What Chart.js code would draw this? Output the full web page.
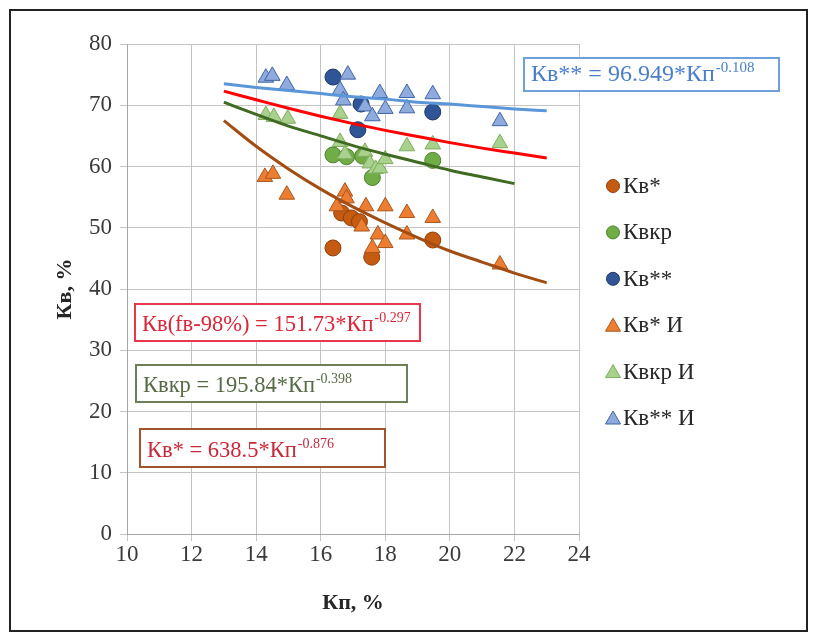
<!DOCTYPE html>
<html>
<head>
<meta charset="utf-8">
<script src="https://cdn.jsdelivr.net/npm/chart.js@4.4.1/dist/chart.umd.min.js"></script>
<style>
  html, body { margin: 0; padding: 0; background: #fff; }
  #wrap { position: relative; width: 816px; height: 633px; }
</style>
</head>
<body>
<div id="wrap"><canvas id="chart" width="816" height="633"></canvas></div>
<script>
// Кв* (circles)
const kvX = [16.38, 16.65, 16.95, 17.2, 17.58, 19.47];
const kvY = [46.7, 52.4, 51.6, 51.0, 45.2, 48.0];
// Квкр (circles)
const kvkrX = [16.38, 16.8, 17.3, 17.6, 19.47];
const kvkrY = [61.9, 61.6, 61.7, 58.2, 61.0];
// Кв** (circles)
const kv2X = [16.38, 17.25, 17.15, 19.47];
const kv2Y = [74.6, 70.2, 66.0, 68.9];
// Кв* И (triangles)
const kvIX = [14.27, 14.52, 14.95, 16.5, 16.75, 16.8, 17.4, 18.0, 18.67, 19.47, 17.27, 17.77, 18.0, 17.6, 18.67, 21.55];
const kvIY = [58.3, 58.8, 55.4, 53.5, 55.9, 54.8, 53.5, 53.5, 52.4, 51.6, 50.2, 48.9, 47.5, 46.7, 48.9, 44.0];
// Квкр И (triangles)
const kvkrIX = [14.3, 14.55, 14.98, 16.6, 16.6, 16.75, 17.37, 17.52, 17.7, 17.83, 18.0, 18.67, 19.47, 21.55];
const kvkrIY = [68.4, 68.1, 67.8, 68.6, 64.0, 62.0, 62.4, 60.5, 59.6, 59.7, 61.2, 63.3, 63.6, 63.8];
// Кв** И (triangles)
const kv2IX = [14.3, 14.5, 14.95, 16.6, 16.84, 16.7, 17.37, 17.6, 17.83, 18.0, 18.67, 18.67, 19.47, 21.55];
const kv2IY = [74.5, 74.8, 73.3, 72.5, 75.0, 70.8, 69.8, 68.2, 72.0, 69.4, 72.0, 69.5, 71.8, 67.4];

// trend lines
const trendX = [13, 14, 15, 16, 17, 18, 19, 20, 21, 22, 23];
const trendKv = [67.5, 63.3, 59.6, 56.3, 53.4, 50.8, 48.4, 46.2, 44.4, 42.6, 41.0];
const trendKvkr = [70.5, 68.5, 66.6, 65.0, 63.4, 62.0, 60.7, 59.4, 58.3, 57.2];
const trendKv2 = [73.5, 72.9, 72.4, 71.9, 71.4, 71.0, 70.5, 70.2, 69.8, 69.4, 69.1];
const trendF98 = [72.3, 70.9, 69.5, 68.2, 67.0, 65.9, 64.9, 63.9, 63.0, 62.2, 61.4];

const xTicks = [10, 12, 14, 16, 18, 20, 22, 24];
const yTicks = [0, 10, 20, 30, 40, 50, 60, 70, 80];

const serif = "'Liberation Serif', 'Times New Roman', serif";

function pts(xs, ys) {
    return xs.map((x, i) => ({x: x, y: ys[i]}));
}

const series = [
    {label: "Кв*", x: kvX, y: kvY, style: "circle", fill: "#C55A11", line: "#8E3F0B", r: 8},
    {label: "Квкр", x: kvkrX, y: kvkrY, style: "circle", fill: "#70AD47", line: "#4E7F2F", r: 8},
    {label: "Кв**", x: kv2X, y: kv2Y, style: "circle", fill: "#2F5597", line: "#1F3864", r: 8},
    {label: "Кв* И", x: kvIX, y: kvIY, style: "triangle", fill: "#ED7D31", line: "#A9551C", r: 9},
    {label: "Квкр И", x: kvkrIX, y: kvkrIY, style: "triangle", fill: "#A9D18E", line: "#7EAD5C", r: 9},
    {label: "Кв** И", x: kv2IX, y: kv2IY, style: "triangle", fill: "#8FAADC", line: "#3E64A6", r: 9},
];

const datasets = series.map((s, i) => ({
    label: s.label,
    data: pts(s.x, s.y),
    pointStyle: s.style,
    pointRadius: s.r,
    pointHoverRadius: s.r,
    backgroundColor: s.fill,
    borderColor: s.line,
    borderWidth: 1,
    showLine: false,
    order: 6 - i,
}));

function trend(xs, ys, color) {
    return {
        label: "trend",
        data: pts(xs, ys),
        showLine: true,
        pointRadius: 0,
        borderColor: color,
        borderWidth: 3,
        cubicInterpolationMode: "monotone",
        order: 0,
    };
}

datasets.push(trend(trendX, trendKv2, "#5B96D8"));
datasets.push(trend(trendX, trendF98, "#FF0000"));
datasets.push(trend(trendX.slice(0, trendKvkr.length), trendKvkr, "#3F6B22"));
datasets.push(trend(trendX, trendKv, "#A24D14"));

function drawMarker(ctx, s, x, y) {
    ctx.save();
    ctx.fillStyle = s.fill;
    ctx.strokeStyle = s.line;
    ctx.lineWidth = 1;
    ctx.beginPath();
    if (s.style === "circle") {
        ctx.arc(x, y, 6.5, 0, Math.PI * 2);
    } else {
        ctx.moveTo(x, y - 7);
        ctx.lineTo(x + 7.5, y + 6);
        ctx.lineTo(x - 7.5, y + 6);
        ctx.closePath();
    }
    ctx.fill();
    ctx.stroke();
    ctx.restore();
}

function drawEquation(ctx, box, main, sup, color, border, size) {
    ctx.save();
    ctx.fillStyle = "#fff";
    ctx.fillRect(box[0], box[1], box[2], box[3]);
    ctx.strokeStyle = border;
    ctx.lineWidth = 2;
    ctx.strokeRect(box[0], box[1], box[2], box[3]);
    ctx.fillStyle = color;
    ctx.textBaseline = "alphabetic";
    ctx.font = size + "px " + serif;
    const bx = box[0] + 7;
    const by = box[1] + box[3] - 10;
    ctx.fillText(main, bx, by);
    const w = ctx.measureText(main).width;
    ctx.font = Math.round(size * 0.64) + "px " + serif;
    ctx.fillText(sup, bx + w + 1, by - 9);
    ctx.restore();
}

const extras = {
    id: "extras",
    afterDraw(chart) {
        const ctx = chart.ctx;
        // legend
        ctx.save();
        ctx.font = "23px " + serif;
        ctx.fillStyle = "#262626";
        ctx.textBaseline = "middle";
        series.forEach((s, i) => {
            const y = 186 + i * 46.4;
            drawMarker(ctx, s, 613, y);
            ctx.fillText(s.label, 623, y + 1);
        });
        ctx.restore();

        drawEquation(ctx, [524, 58, 255, 33], "Кв** = 96.949*Кп", "-0.108", "#4A7EC8", "#6FA0DA", 24);
        drawEquation(ctx, [135, 304, 285, 37], "Кв(fв-98%) = 151.73*Кп", "-0.297", "#D9263A", "#E8364A", 22.5);
        drawEquation(ctx, [136, 365, 271, 37], "Квкр = 195.84*Кп", "-0.398", "#556B45", "#6E7F58", 22.5);
        drawEquation(ctx, [140, 429, 245, 38], "Кв* = 638.5*Кп", "-0.876", "#C8283C", "#A0562A", 22.5);

        // outer frame
        ctx.save();
        ctx.strokeStyle = "#222";
        ctx.lineWidth = 2;
        ctx.strokeRect(10, 10, 797, 621);
        ctx.restore();
    }
};

new Chart(document.getElementById("chart"), {
    type: "scatter",
    data: {datasets: datasets},
    plugins: [extras],
    options: {
        responsive: false,
        animation: false,
        layout: {padding: {left: 0, right: 237, top: 44, bottom: 0}},
        plugins: {
            legend: {display: false},
            tooltip: {enabled: false},
        },
        scales: {
            x: {
                type: "linear",
                min: 10,
                max: 24,
                afterBuildTicks: (scale) => { scale.ticks = xTicks.map(v => ({value: v})); },
                afterFit: (scale) => { scale.height = 99; },
                ticks: {color: "#3A3A3A", font: {family: serif, size: 23}, padding: 0},
                grid: {color: "#C4C4C4", tickLength: 7, lineWidth: 1},
                border: {color: "#A6A6A6"},
                title: {display: true, text: "Кп, %", color: "#262626",
                    font: {family: serif, size: 22, weight: "bold"}, padding: {top: 0, bottom: 16}},
            },
            y: {
                type: "linear",
                min: 0,
                max: 80,
                afterBuildTicks: (scale) => { scale.ticks = yTicks.map(v => ({value: v})); },
                afterFit: (scale) => { scale.width = 127; },
                ticks: {color: "#3A3A3A", font: {family: serif, size: 23}, padding: 8},
                grid: {color: "#C4C4C4", tickLength: 7, lineWidth: 1},
                border: {color: "#A6A6A6"},
                title: {display: true, text: "Кв, %", color: "#262626",
                    font: {family: serif, size: 22, weight: "bold"}, padding: {top: 52, bottom: 0}},
            },
        },
    },
});
</script>
</body>
</html>
